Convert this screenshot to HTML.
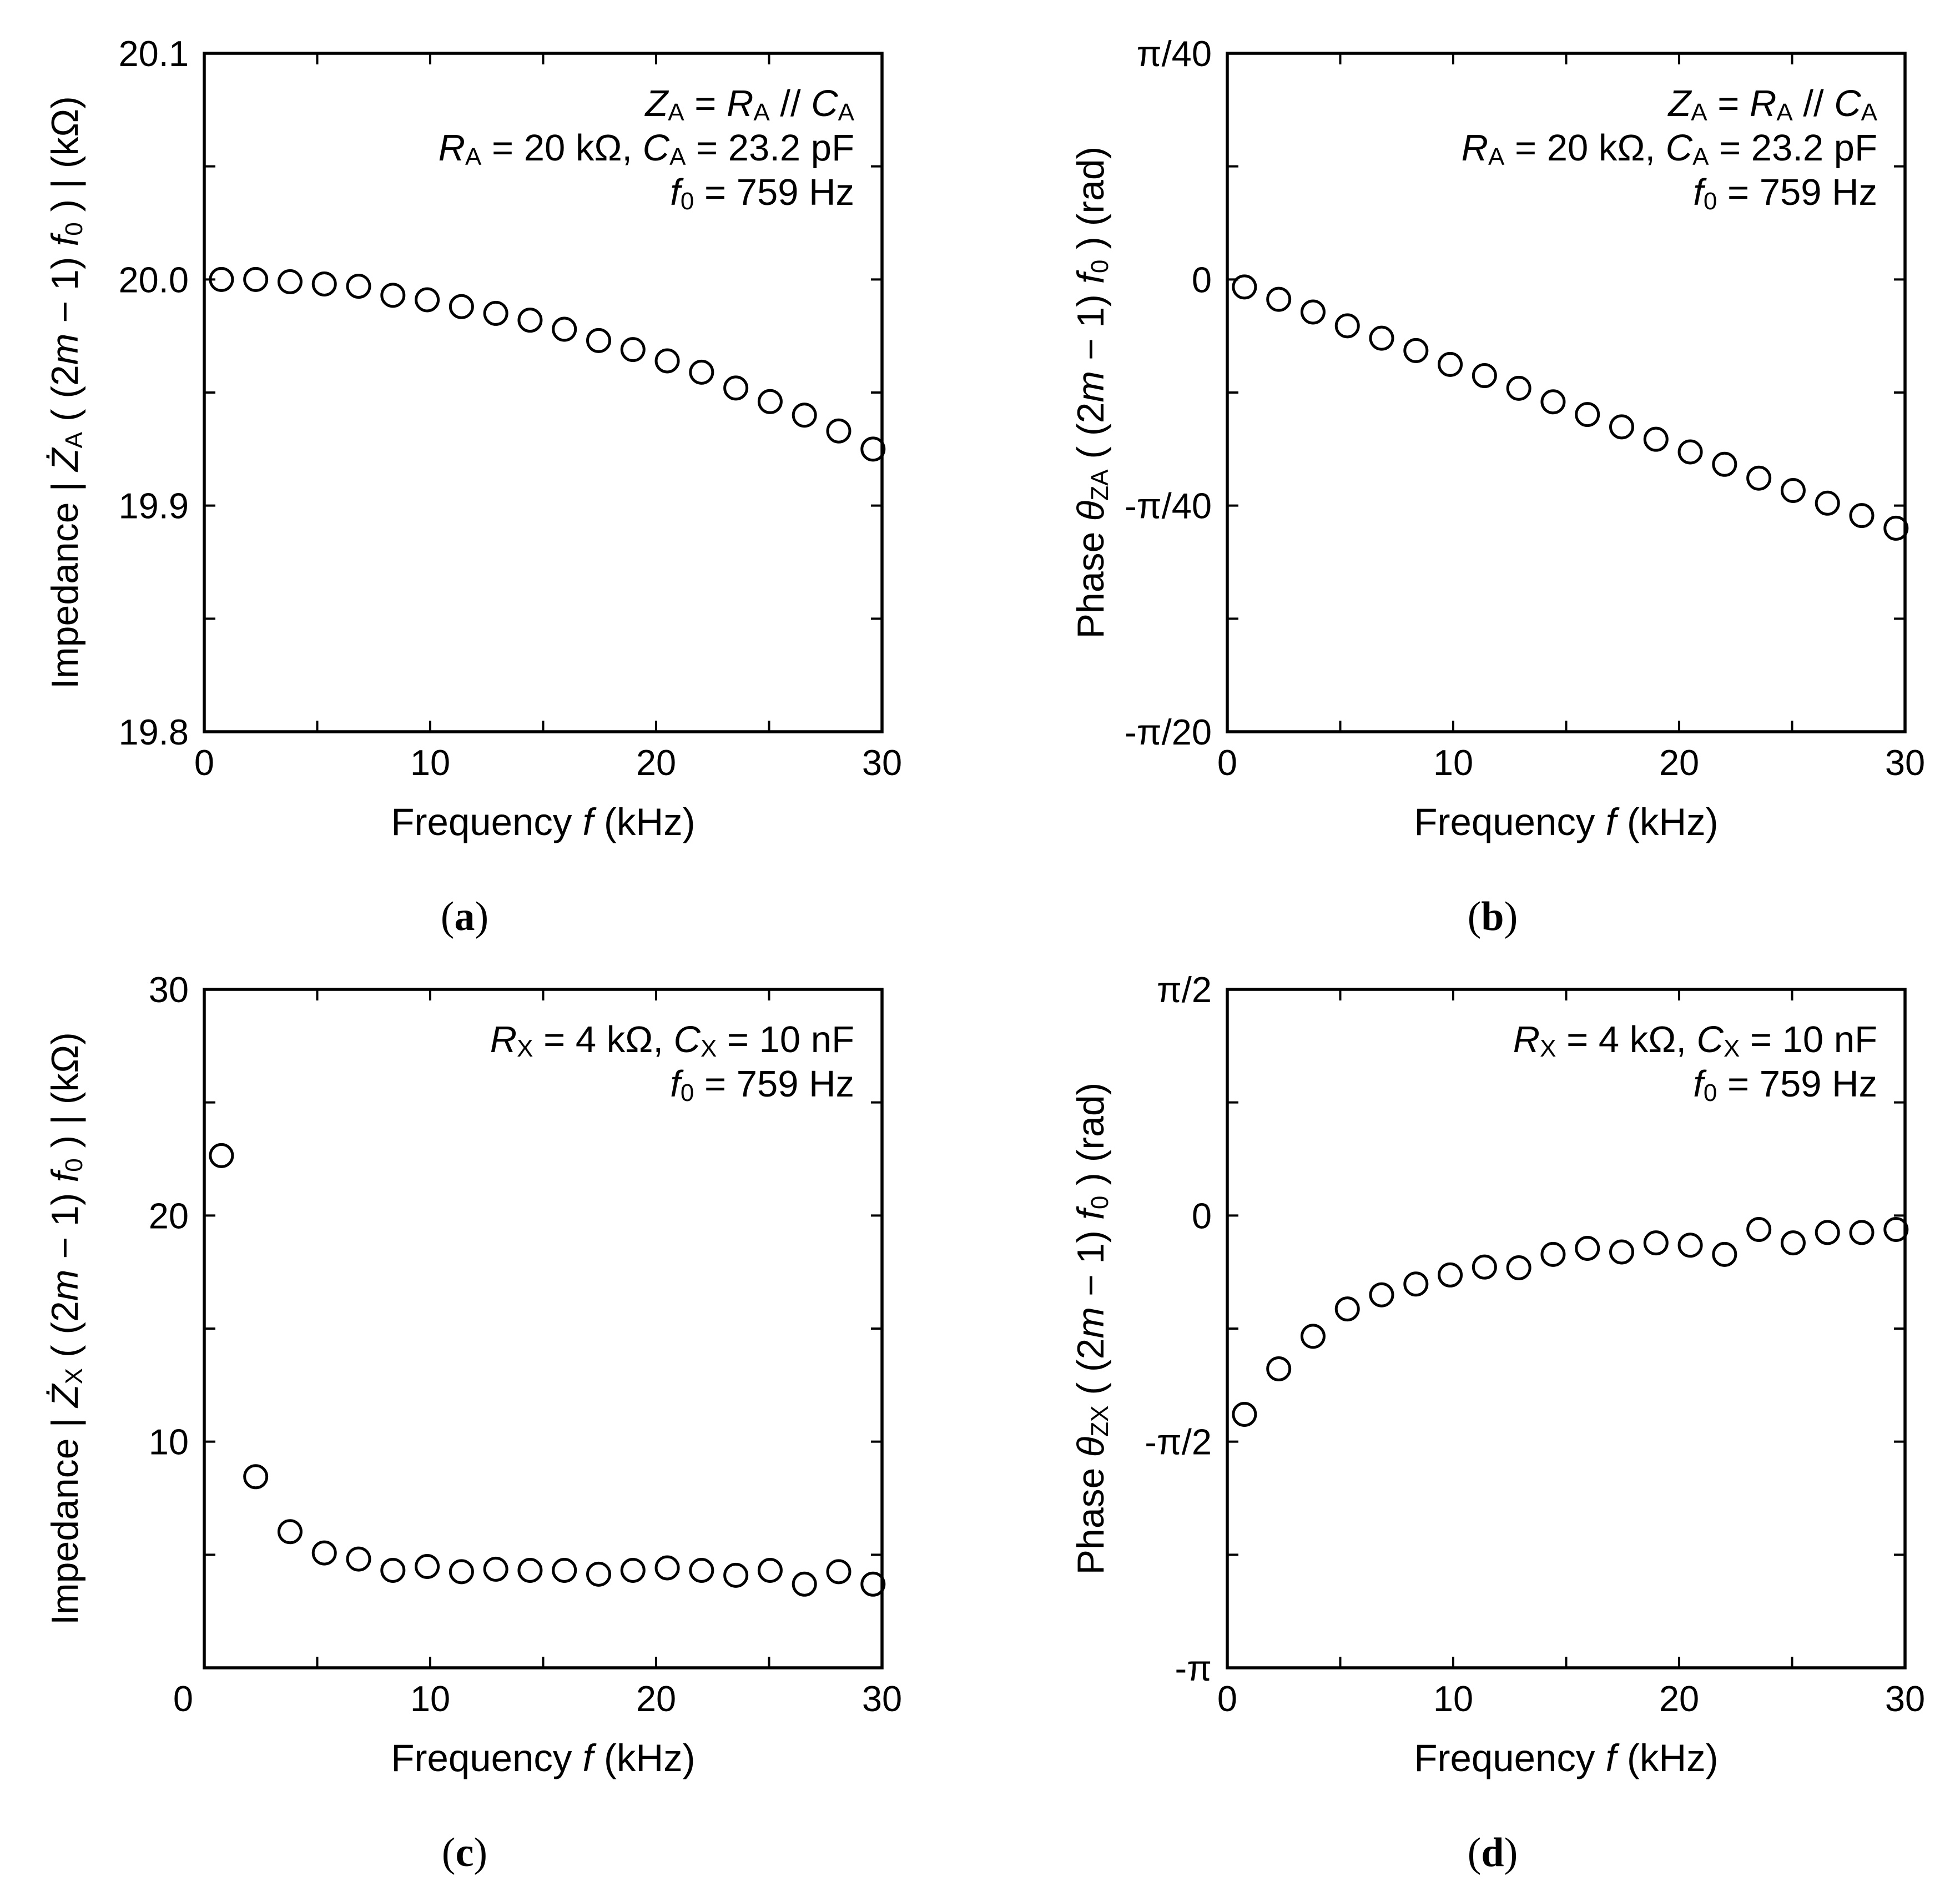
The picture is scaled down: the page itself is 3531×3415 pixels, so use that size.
<!DOCTYPE html>
<html><head><meta charset="utf-8"><style>
html,body{margin:0;padding:0;background:#fff}
svg{display:block}
text{font-family:"Liberation Sans",sans-serif;fill:#000}
</style></head><body>
<svg id="fig" xmlns="http://www.w3.org/2000/svg" width="3531" height="3415" viewBox="0 0 3531 3415"></svg>
<script>
const freqs = [0.759,2.277,3.795,5.313,6.831,8.349,9.867,11.385,12.903,14.421,15.939,17.457,18.975,20.493,22.011,23.529,25.047,26.565,28.083,29.601];
const magA = [20.000,20.000,19.999,19.998,19.997,19.993,19.991,19.988,19.985,19.982,19.978,19.973,19.969,19.964,19.959,19.952,19.946,19.940,19.933,19.925];
const phaseA = [-0.0026,-0.0069,-0.0113,-0.0161,-0.0204,-0.0247,-0.0295,-0.0334,-0.0378,-0.0425,-0.0469,-0.0512,-0.0555,-0.0599,-0.0642,-0.0690,-0.0733,-0.0777,-0.0820,-0.0864];
const magX = [22.65,8.45,6.02,5.08,4.81,4.31,4.48,4.25,4.36,4.31,4.31,4.14,4.31,4.42,4.31,4.09,4.31,3.70,4.25,3.70];
const phaseX = [-1.381,-1.065,-0.839,-0.649,-0.551,-0.476,-0.413,-0.358,-0.363,-0.270,-0.228,-0.253,-0.190,-0.206,-0.270,-0.097,-0.190,-0.118,-0.118,-0.097];
const xTickLabels = ["0","10","20","30"];
const yLabelsA = ["19.8","19.9","20.0","20.1"];
const yLabelsB = ["-π/20","-π/40","0","π/40"];
const yLabelsC = ["","10","20","30"];
const yLabelsD = ["-π","-π/2","0","π/2"];

const NS="http://www.w3.org/2000/svg";
const svg=document.getElementById('fig');
function mk(tag,attrs,parent){const e=document.createElementNS(NS,tag);for(const k in attrs)e.setAttribute(k,attrs[k]);(parent||svg).appendChild(e);return e;}

function panel(o){
  const g=mk('g',{});
  
  
  const L=o.x0,R=o.x0+1221,T=o.y0,B=o.y0+1222;
  const xs=v=>L+(v-0)/30*(R-L);
  const ys=v=>B-(v-o.ymin)/(o.ymax-o.ymin)*(B-T);
  const frame=mk('rect',{x:L,y:T,width:R-L,height:B-T,fill:'none',stroke:'#000','stroke-width':5.5},g);
  
  
  for(let v=0;v<=30;v+=5){
    const x=xs(v);
    mk('line',{x1:x,y1:B,x2:x,y2:B-20,stroke:'#000','stroke-width':4},g);
    mk('line',{x1:x,y1:T,x2:x,y2:T+20,stroke:'#000','stroke-width':4},g);
  }
  for(let i=0;i<=o.nyt;i++){
    const y=T+i*(B-T)/o.nyt;
    mk('line',{x1:L,y1:y,x2:L+20,y2:y,stroke:'#000','stroke-width':4},g);
    mk('line',{x1:R,y1:y,x2:R-20,y2:y,stroke:'#000','stroke-width':4},g);
  }
  xTickLabels.forEach((t,i)=>{
    if(o.noX0&&i===0)return;
    const tl=mk('text',{x:xs(i*10),y:B+78,'font-size':65,'text-anchor':'middle'},g);tl.textContent=t;
    
    
  });
  o.ylabels.forEach((t,i)=>{
    if(!t)return;
    const v=o.ymin+i*(o.ymax-o.ymin)/(o.ylabels.length-1);
    const tl=mk('text',{x:L-28,y:ys(v)+23,'font-size':65,'text-anchor':'end'},g);tl.textContent=t;
    
    
  });
  if(o.noX0){const z=mk('text',{x:L-38,y:B+78,'font-size':65,'text-anchor':'middle'},g);z.textContent='0';
    
    }
  const xt=mk('text',{x:(L+R)/2,y:B+186,'font-size':69,'text-anchor':'middle'},g);
  xt.innerHTML='Frequency <tspan font-style="italic">f</tspan> (kHz)';
  
  
  const yt=mk('text',{x:0,y:0,'font-size':68,'text-anchor':'middle',transform:`translate(${o.ytx},${(T+B)/2}) rotate(-90)`},g);
  yt.innerHTML=o.ytitle;
  
  
  o.ann.forEach((h,i)=>{
    const a=mk('text',{x:R-50,y:T+113+i*80,'font-size':67,'text-anchor':'end'},g);a.innerHTML=h;
    
    
  });
  o.vals.forEach((v,i)=>{
    const c=mk('circle',{cx:xs(freqs[i]),cy:ys(v),r:20,fill:'none',stroke:'#000','stroke-width':5},g);
    
    
  });
  const pl=mk('text',{x:o.plx,y:B+357,'font-size':74,'text-anchor':'middle'},g);
  pl.innerHTML='(<tspan font-weight="bold">'+o.letter+'</tspan>)';
  pl.style.fontFamily='"Liberation Serif",serif';
  
  
}
const sub=s=>`<tspan font-size="44" dy="8">${s}</tspan><tspan dy="-8"> </tspan>`;
const annA=[`<tspan font-style="italic">Z</tspan>${sub('A')}= <tspan font-style="italic">R</tspan>${sub('A')}// <tspan font-style="italic">C</tspan><tspan font-size="44" dy="8">A</tspan>`,
 `<tspan font-style="italic">R</tspan>${sub('A')}= 20 kΩ, <tspan font-style="italic">C</tspan>${sub('A')}= 23.2 pF`,
 `<tspan font-style="italic">f</tspan>${sub('0')}= 759 Hz`];
const annX=[`<tspan font-style="italic">R</tspan>${sub('X')}= 4 kΩ, <tspan font-style="italic">C</tspan>${sub('X')}= 10 nF`,
 `<tspan font-style="italic">f</tspan>${sub('0')}= 759 Hz`];
const inner=s=>` ( (2<tspan font-style="italic">m</tspan> − 1) <tspan font-style="italic">f</tspan><tspan font-size="44" dy="8">0</tspan><tspan dy="-8"> )</tspan>`;
const PI=Math.PI;
panel({name:'panel-a',letter:'a',x0:368,y0:96,ymin:19.8,ymax:20.1,nyt:6,ylabels:yLabelsA,vals:magA,ytx:140,plx:837,ann:annA,
 ytitle:`Impedance | <tspan font-style="italic">Ż</tspan><tspan font-size="44" dy="8">A</tspan><tspan dy="-8">${inner()} |</tspan> (kΩ)`});
panel({name:'panel-b',letter:'b',x0:2211,y0:96,ymin:-PI/20,ymax:PI/40,nyt:6,ylabels:yLabelsB,vals:phaseA,ytx:1988,plx:2689,ann:annA,
 ytitle:`Phase <tspan font-style="italic">θ</tspan><tspan font-size="44" dy="8">ZA</tspan><tspan dy="-8">${inner()}</tspan> (rad)`});
panel({name:'panel-c',letter:'c',x0:368,y0:1782,ymin:0,ymax:30,nyt:6,ylabels:yLabelsC,vals:magX,ytx:140,plx:837,ann:annX,noX0:true,
 ytitle:`Impedance | <tspan font-style="italic">Ż</tspan><tspan font-size="44" dy="8">X</tspan><tspan dy="-8">${inner()} |</tspan> (kΩ)`});
panel({name:'panel-d',letter:'d',x0:2211,y0:1782,ymin:-PI,ymax:PI/2,nyt:6,ylabels:yLabelsD,vals:phaseX,ytx:1988,plx:2689,ann:annX,
 ytitle:`Phase <tspan font-style="italic">θ</tspan><tspan font-size="44" dy="8">ZX</tspan><tspan dy="-8">${inner()}</tspan> (rad)`});
</script>
</body></html>
